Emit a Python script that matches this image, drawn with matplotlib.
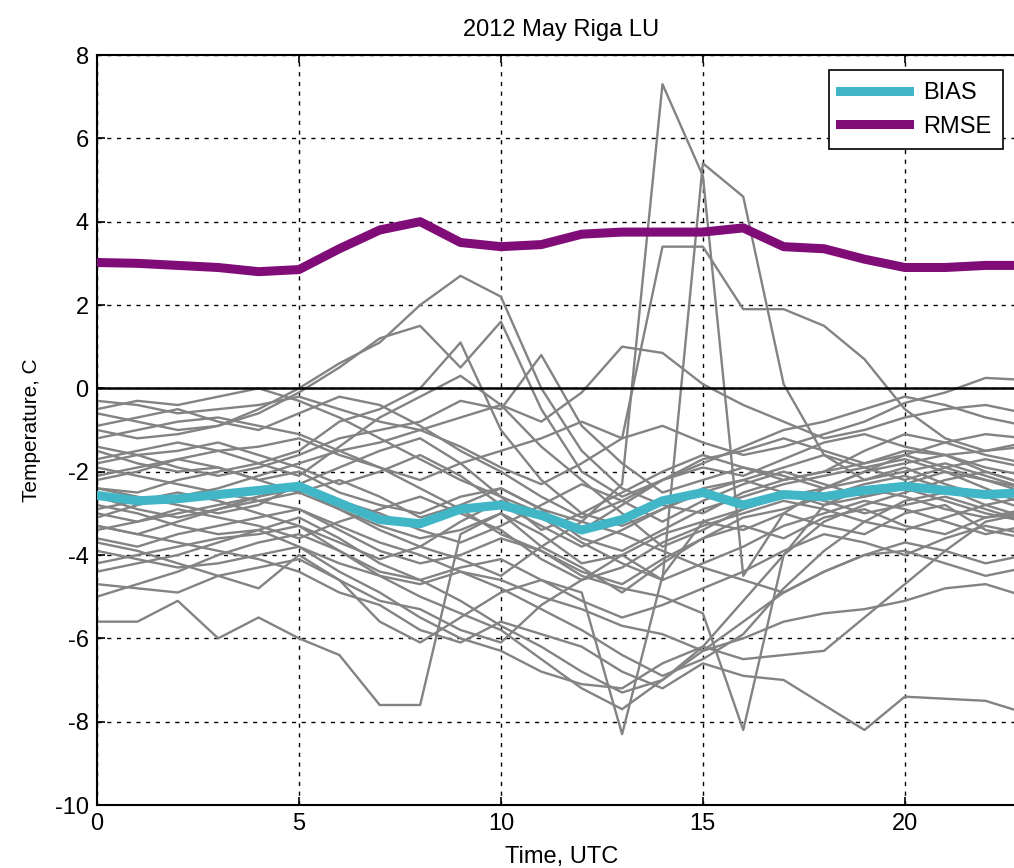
import numpy as np
import matplotlib
matplotlib.use('Agg')
import matplotlib.pyplot as plt

plt.rcParams['font.family'] = ['Liberation Sans', 'DejaVu Sans']
plt.rcParams['axes.unicode_minus'] = False

# forecast hours (UTC)
hours = list(range(24))

# bias / rmse over all days
bias = [-2.57, -2.7, -2.65, -2.55, -2.45, -2.35, -2.75, -3.15, -3.25, -2.9, -2.8, -3.05,
        -3.4, -3.15, -2.7, -2.5, -2.8, -2.55, -2.6, -2.45, -2.35, -2.45, -2.55, -2.5]
rmse = [3.02, 3.0, 2.95, 2.9, 2.8, 2.85, 3.35, 3.8, 4.0, 3.5, 3.4, 3.45,
        3.7, 3.75, 3.75, 3.75, 3.85, 3.4, 3.35, 3.1, 2.9, 2.9, 2.95, 2.95]

# daily errors (one line per day of May)
days = [
    [-1.5, -1.8, -2.0, -1.9, -2.2, -2.0, -2.5, -2.8, -3.0, -2.6, -2.4, -2.9, -3.2, -2.3, 7.3, 5.1, -4.5, -3.0, -2.4, -2.0, -1.6, -1.9, -2.2, -2.5],
    [-3.0, -3.2, -3.0, -2.8, -2.6, -2.4, -2.9, -3.3, -3.6, -3.4, -3.0, -3.5, -4.2, -4.0, -4.6, 5.4, 4.6, 0.1, -1.6, -2.2, -2.0, -1.8, -2.1, -2.4],
    [-2.2, -2.0, -1.7, -1.5, -1.4, -1.2, -1.6, -1.9, -2.2, -1.8, -1.5, -1.2, -0.8, -1.2, 3.4, 3.4, 1.9, 1.9, 1.5, 0.7, -0.5, -1.2, -1.5, -1.3],
    [-3.6, -3.8, -3.5, -3.3, -3.1, -2.9, -3.4, -3.9, -4.2, -4.0, -3.6, -3.9, -4.5, -4.8, -5.0, -5.4, -8.2, -4.0, -2.8, -2.4, -2.6, -2.9, -3.1, -3.0],
    [-4.2, -4.0, -3.8, -3.6, -3.5, -3.3, -3.9, -4.4, -4.6, -4.3, -4.1, -4.6, -4.9, -8.3, -4.5, -3.2, -2.9, -2.5, -2.7, -3.0, -2.8, -2.6, -2.9, -3.2],
    [-5.6, -5.6, -5.1, -6.0, -5.5, -6.0, -6.4, -7.6, -7.6, -3.5, -3.0, -3.8, -4.3, -4.9, -4.2, -3.6, -3.3, -3.6, -3.1, -2.9, -3.3, -3.5, -3.1, -2.9],
    [-4.7, -4.8, -4.9, -4.5, -4.8, -4.0, -4.6, -5.1, -5.3, -5.8, -6.1, -5.2, -4.6, -4.0, -3.5, -3.2, -3.4, -3.0, -3.3, -3.5, -3.0, -2.8, -3.4, -3.6],
    [-1.0, -1.2, -1.1, -0.9, -0.5, 0.0, 0.6, 1.1, 2.0, 2.7, 2.2, 0.0, -1.5, -2.4, -2.8, -3.0, -2.5, -2.2, -2.0, -1.8, -1.5, -1.6, -1.9, -2.1],
    [-0.6, -0.8, -1.0, -0.9, -0.6, -0.1, 0.5, 1.2, 1.5, 0.5, 1.6, -0.5, -2.0, -2.6, -2.2, -1.9, -2.1, -1.7, -1.3, -1.1, -1.4, -1.6, -1.5, -1.4],
    [-2.4, -2.5, -2.2, -2.0, -1.8, -1.5, -0.8, -0.5, 0.0, 1.1, -1.0, -2.2, -3.0, -3.3, -2.9, -2.4, -2.2, -2.5, -2.8, -2.6, -2.3, -2.0, -2.2, -2.4],
    [-1.8, -1.6, -1.9, -2.1, -1.9, -1.6, -1.2, -1.0, -0.8, -0.3, -0.5, 0.8, -0.9, -1.8, -2.5, -2.2, -1.9, -2.1, -2.4, -2.2, -1.9, -2.3, -2.6, -2.5],
    [-0.3, -0.4, -0.6, -0.5, -0.4, -0.2, -0.5, -0.8, -1.0, -0.7, -0.4, -0.8, -0.1, 1.0, 0.85, 0.1, -0.4, -0.8, -1.2, -1.0, -0.7, -0.5, -0.4, -0.6],
    [-3.3, -3.5, -3.7, -3.9, -4.1, -4.4, -4.9, -5.2, -5.8, -6.1, -5.6, -5.9, -6.2, -6.8, -7.2, -6.6, -6.9, -7.0, -7.6, -8.2, -7.4, -7.45, -7.5, -7.8],
    [-2.8, -3.0, -3.3, -3.5, -3.4, -3.8, -4.2, -4.5, -4.7, -4.4, -4.6, -5.0, -5.3, -5.7, -5.9, -6.3, -6.0, -5.6, -5.4, -5.3, -5.1, -4.8, -4.7, -5.0],
    [-3.9, -4.1, -4.3, -4.2, -4.0, -3.8, -4.4, -4.9, -5.5, -6.0, -6.3, -6.8, -7.1, -7.2, -6.6, -6.2, -6.5, -6.4, -6.3, -5.5, -4.7, -3.9, -3.2, -3.0],
    [-1.2, -1.0, -0.8, -0.7, -0.9, -1.1, -1.5, -1.3, -1.0, -1.4, -1.9, -2.3, -1.8, -1.2, -0.9, -1.3, -1.6, -1.4, -1.1, -0.8, -0.35, -0.1, 0.25, 0.2],
    [-2.6, -2.9, -3.1, -2.9, -2.7, -2.5, -2.2, -2.6, -3.1, -2.8, -2.4, -2.9, -3.6, -3.9, -3.4, -2.9, -2.6, -2.3, -2.1, -1.9, -1.7, -2.0, -2.4, -2.8],
    [-3.4, -3.2, -2.9, -3.1, -3.3, -3.6, -3.2, -2.9, -2.6, -3.0, -3.4, -4.1, -4.6, -4.3, -3.7, -3.3, -3.0, -2.7, -2.9, -3.2, -3.4, -3.1, -2.8, -2.6],
    [-1.9, -2.1, -2.3, -2.5, -2.7, -2.9, -3.3, -3.7, -4.0, -4.4, -4.8, -5.3, -5.8, -6.4, -6.9, -6.5, -5.9, -4.8, -3.9, -3.2, -2.7, -2.5, -2.6, -2.9],
    [-2.1, -1.9, -1.7, -1.9, -2.2, -2.5, -2.9, -3.4, -3.8, -4.1, -4.5, -3.8, -3.2, -3.5, -3.9, -4.3, -4.6, -4.9, -4.4, -4.0, -3.9, -4.2, -4.5, -4.3],
    [-4.4, -4.2, -4.0, -3.7, -3.4, -3.1, -3.6, -4.2, -4.6, -5.1, -5.7, -6.2, -6.8, -7.3, -7.0, -6.2, -5.1, -4.0, -3.2, -2.8, -2.5, -2.2, -2.0, -2.3],
    [-0.9, -0.7, -0.5, -0.8, -1.0, -0.6, -0.2, -0.4, -0.9, -1.5, -2.0, -2.6, -3.1, -2.7, -2.2, -1.8, -1.4, -1.0, -0.8, -0.5, -0.2, -0.4, -0.7, -0.9],
    [-3.1, -2.8, -2.6, -2.4, -2.1, -1.8, -1.5, -1.9, -2.4, -2.9, -3.5, -3.9, -4.4, -4.7, -4.1, -3.6, -3.1, -2.9, -2.6, -2.3, -2.1, -2.4, -2.8, -3.1],
    [-2.4, -2.6, -2.8, -3.0, -2.8, -2.3, -1.9, -1.5, -1.2, -1.8, -2.6, -3.4, -3.0, -2.5, -2.0, -1.6, -1.9, -2.2, -2.0, -1.5, -1.1, -1.3, -1.6, -1.8],
    [-3.7, -3.9, -4.2, -4.5, -4.3, -4.1, -4.6, -5.6, -6.1, -5.5, -4.9, -4.6, -5.1, -5.5, -5.2, -4.8, -4.4, -3.9, -3.5, -3.7, -4.0, -3.6, -3.3, -3.5],
    [-1.4, -1.6, -1.5, -1.3, -1.6, -1.9, -2.3, -2.0, -1.6, -2.1, -2.8, -3.3, -3.8, -3.4, -2.9, -2.5, -2.2, -1.9, -1.6, -1.9, -2.2, -1.9, -1.7, -1.9],
    [-2.9, -2.7, -2.5, -2.7, -3.0, -3.3, -3.7, -4.1, -3.8, -3.2, -2.7, -3.1, -3.7, -4.2, -4.6, -4.2, -3.8, -3.3, -3.0, -2.7, -2.9, -3.2, -3.5, -3.3],
    [-0.5, -0.3, -0.4, -0.2, 0.0, -0.3, -0.7, -1.2, -1.7, -2.2, -2.6, -3.0, -3.4, -2.8, -2.2, -1.7, -1.5, -1.2, -1.5, -1.8, -1.6, -1.3, -1.1, -1.2],
    [-5.0, -4.7, -4.4, -4.0, -3.7, -3.5, -3.9, -4.5, -5.0, -5.4, -5.8, -6.5, -7.2, -7.7, -7.0, -6.3, -5.6, -4.9, -4.4, -4.0, -3.7, -3.9, -4.2, -4.0],
    [-1.7, -1.5, -1.3, -1.5, -1.8, -2.1, -1.4, -0.7, -0.2, 0.3, -0.4, -1.4, -2.2, -3.0, -3.8, -3.4, -2.9, -2.6, -2.4, -2.0, -1.8, -1.6, -2.0, -2.3],
    [-3.3, -3.5, -3.2, -2.9, -2.6, -2.3, -2.7, -3.0, -3.4, -3.7, -3.3, -2.8, -2.3, -2.7, -3.2, -2.7, -2.3, -2.0, -2.3, -2.6, -2.4, -2.7, -3.0, -3.2],
]

fig = plt.figure(figsize=(10.14, 8.68), dpi=100)
# axes runs a bit past the right edge, like the cropped original
ax = fig.add_axes([97 / 1014, 63 / 868, 929 / 1014, 750 / 868])

for d in days:
    ax.plot(hours, d, color='#838383', linewidth=1.7, zorder=2)

ax.axhline(0, color='black', linewidth=1.8, zorder=3)
ax.plot(hours, bias, color='#40B6C6', linewidth=6.5, label='BIAS', zorder=4)
ax.plot(hours, rmse, color='#800C78', linewidth=6.5, label='RMSE', zorder=4)

ax.set_xlim(0, 23)
ax.set_ylim(-10, 8)
ax.set_xticks([0, 5, 10, 15, 20])
ax.set_yticks(np.arange(-10, 9, 2))
ax.grid(True, color='black', linestyle=(0, (3, 4)), linewidth=1.0)
ax.set_axisbelow(True)
ax.tick_params(direction='in', top=True, right=True, labelsize=17, length=6, width=1.2, pad=6)
for s in ax.spines.values():
    s.set_linewidth(1.5)

ax.set_title('2012 May Riga LU', fontsize=17, pad=14)
ax.set_xlabel('Time, UTC', fontsize=17, labelpad=8)
ax.set_ylabel('Temperature, C', fontsize=15, labelpad=10)

leg = ax.legend(loc='upper right', bbox_to_anchor=(1003 / 1014, 1 - 70 / 868),
                bbox_transform=fig.transFigure, borderaxespad=0, fontsize=17,
                fancybox=False, framealpha=1, edgecolor='black', handlelength=2.9,
                borderpad=0.5, labelspacing=0.5, handletextpad=0.6)
leg.get_frame().set_linewidth(1.2)

fig.savefig('out.png', dpi=100)
